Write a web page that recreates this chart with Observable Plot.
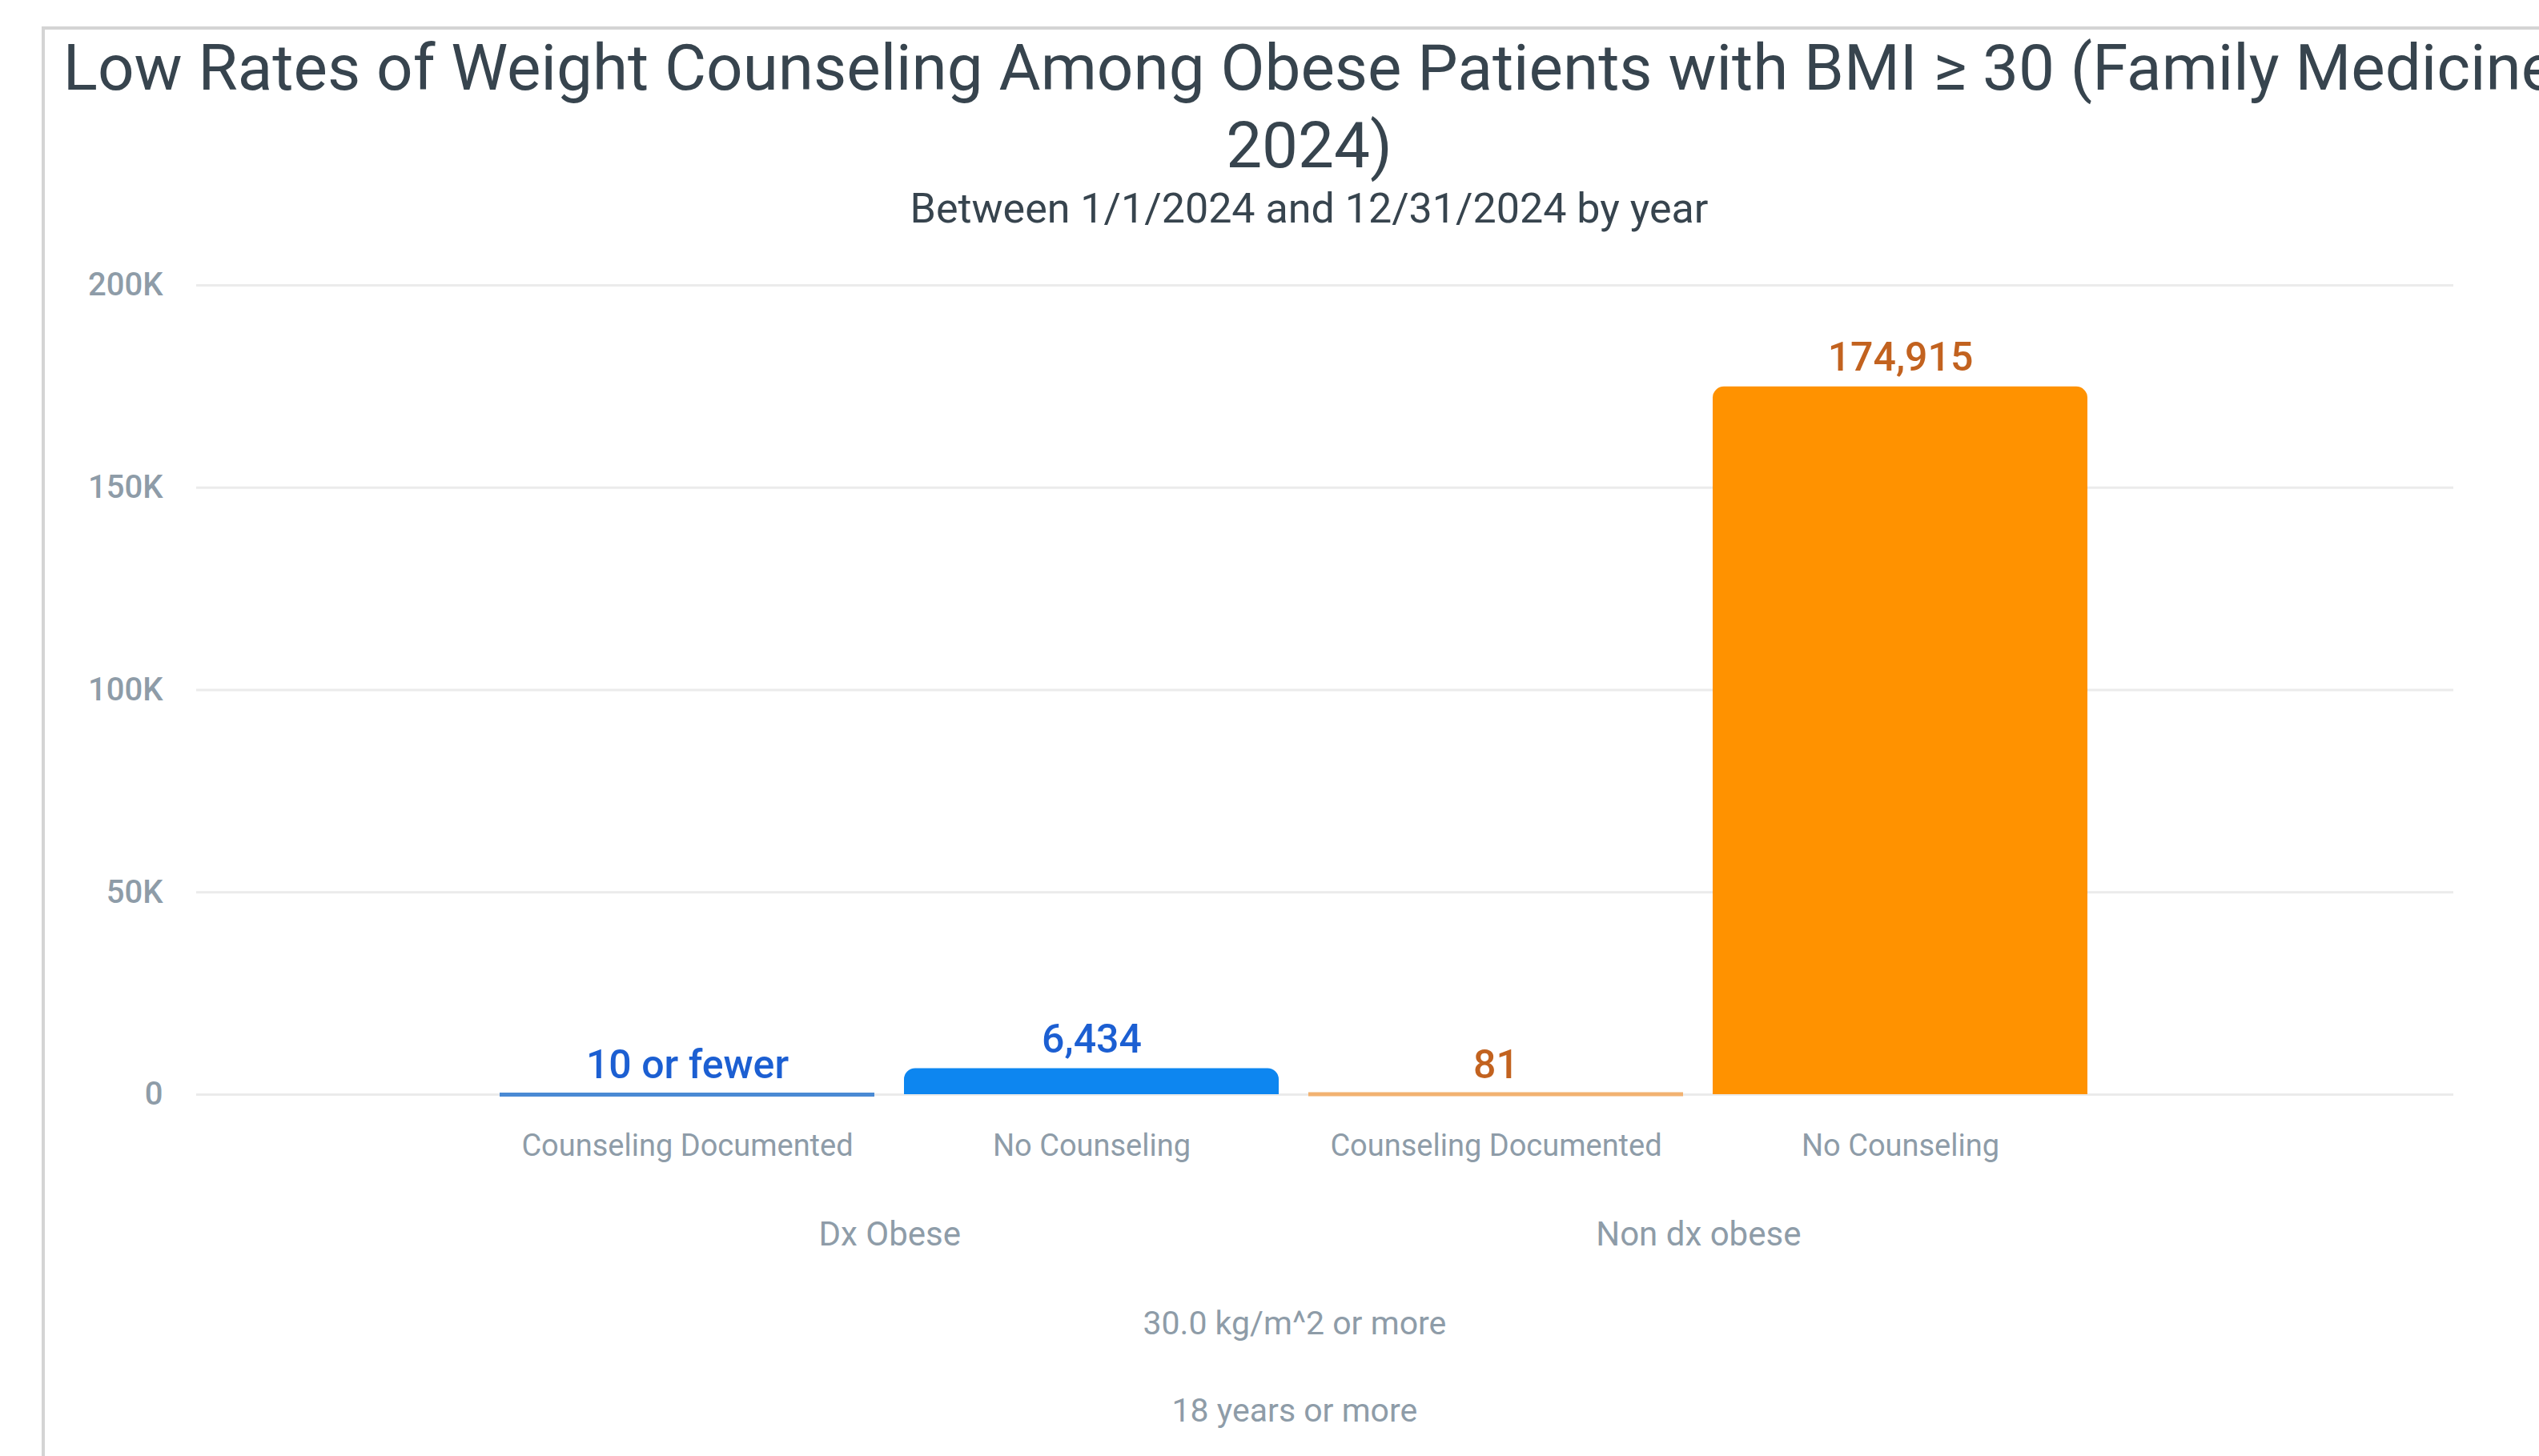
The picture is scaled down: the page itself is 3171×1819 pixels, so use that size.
<!DOCTYPE html>
<html>
<head>
<meta charset="utf-8">
<script src="https://cdn.jsdelivr.net/npm/d3@7"></script>
<script src="https://cdn.jsdelivr.net/npm/@observablehq/plot@0.6"></script>
<style>
  html, body { margin: 0; padding: 0; background: #fff; overflow: hidden; width: 3171px; height: 1819px; }
  body { font-family: Roboto, "Noto Sans", sans-serif; position: relative; }
  #card { position: absolute; left: 52px; top: 33px; width: 3158px; height: 1900px;
          border-left: 4px solid #d4d4d4; border-top: 4px solid #d4d4d4; background: #fff; }
  #title { width: 3158px; text-align: center; font-size: 80px; line-height: 97px; color: #37444e;
           font-weight: 400; white-space: nowrap; margin: 0; }
  #subtitle { width: 3158px; text-align: center; font-size: 52px; line-height: 60px; color: #37444e; margin: 0; }
  #chart { position: absolute; left: 0; top: 255px; }
</style>
</head>
<body>
<div id="card">
  <div id="title">Low Rates of Weight Counseling Among Obese Patients with BMI ≥ 30 (Family Medicine<br>2024)</div>
  <div id="subtitle">Between 1/1/2024 and 12/31/2024 by year</div>
  <div id="chart"></div>
</div>
<script>
// ---- data ----
const groups = ["Dx Obese", "Dx Obese", "Non dx obese", "Non dx obese"];
const counseling = ["Counseling Documented", "No Counseling", "Counseling Documented", "No Counseling"];
const values = [10, 6434, 81, 174915];
const valueLabels = ["10 or fewer", "6,434", "81", "174,915"];
const groupNames = ["Dx Obese", "Non dx obese"];
const yTicks = [0, 50000, 100000, 150000, 200000];
const yTickLabels = ["0", "50K", "100K", "150K", "200K"];
const footLabels = ["30.0 kg/m^2 or more", "18 years or more"];

const barColor = {"Dx Obese": "#0d86f0", "Non dx obese": "#ff9200"};
const thinColor = {"Dx Obese": "#4a8ad4", "Non dx obese": "#f2b271"};
const labelColor = {"Dx Obese": "#1c5fd2", "Non dx obese": "#c2621f"};

const data = values.map((v, i) => ({
  key: groups[i] + "|" + counseling[i],
  group: groups[i],
  counseling: counseling[i],
  value: v,
  label: valueLabels[i]
}));
const keys = data.map(d => d.key);

// ---- layout ----
const width = 3113, height = 1560;
const marginLeft = 189, marginRight = 105, marginTop = 64, marginBottom = 485;
const paddingInner = 0.0724, paddingOuter = 0.824, align = 0.454;

const band = d3.scaleBand(keys, [marginLeft, width - marginRight])
  .paddingInner(paddingInner).paddingOuter(paddingOuter).align(align);
const halfStep = band.step() / 2;
const centerAll = (band(keys[0]) + band(keys[keys.length - 1]) + band.bandwidth()) / 2;
const centerOffset = centerAll - (band(keys[0]) + band.bandwidth() / 2);

const groupData = groupNames.map(g => ({group: g, key: data.find(d => d.group === g).key}));
const foot1 = [{text: footLabels[0], key: keys[0]}];
const foot2 = [{text: footLabels[1], key: keys[0]}];
const grey = "#8e9ca8";

const chart = Plot.plot({
  width, height, marginLeft, marginRight, marginTop, marginBottom,
  style: {fontFamily: "Roboto, sans-serif", background: "transparent", overflow: "visible"},
  x: {domain: keys, paddingInner, paddingOuter, align, axis: null},
  y: {domain: [0, 200000], axis: null},
  marks: [
    Plot.ruleY(yTicks, {stroke: "#ebebeb", strokeWidth: 3}),
    Plot.axisY({ticks: yTicks, tickFormat: d => yTickLabels[yTicks.indexOf(d)], tickSize: 0, tickPadding: 42,
      fontSize: 40, fill: grey, fontWeight: 500, label: null}),
    Plot.barY(data.filter(d => d.value >= 1000), {x: "key", y: "value", fill: d => barColor[d.group], ry1: 14}),
    Plot.tickY(data.filter(d => d.value < 1000), {x: "key", y: "value", stroke: d => thinColor[d.group], strokeWidth: 5}),
    Plot.text(data, {x: "key", y: "value", text: "label", fill: d => labelColor[d.group], fontSize: 50,
      fontWeight: 500, lineAnchor: "bottom", dy: -20}),
    Plot.axisX({tickFormat: k => k.split("|")[1], tickSize: 0, tickPadding: 50, fontSize: 38,
      fill: grey, label: null}),
    Plot.text(groupData, {x: "key", text: "group", frameAnchor: "bottom", dx: halfStep, dy: 188,
      fontSize: 42, fill: grey}),
    Plot.text(foot1, {x: "key", text: "text", frameAnchor: "bottom", dx: centerOffset, dy: 299,
      fontSize: 41, fill: grey}),
    Plot.text(foot2, {x: "key", text: "text", frameAnchor: "bottom", dx: centerOffset, dy: 408,
      fontSize: 41, fill: grey})
  ]
});
document.getElementById("chart").appendChild(chart);
</script>
</body>
</html>
